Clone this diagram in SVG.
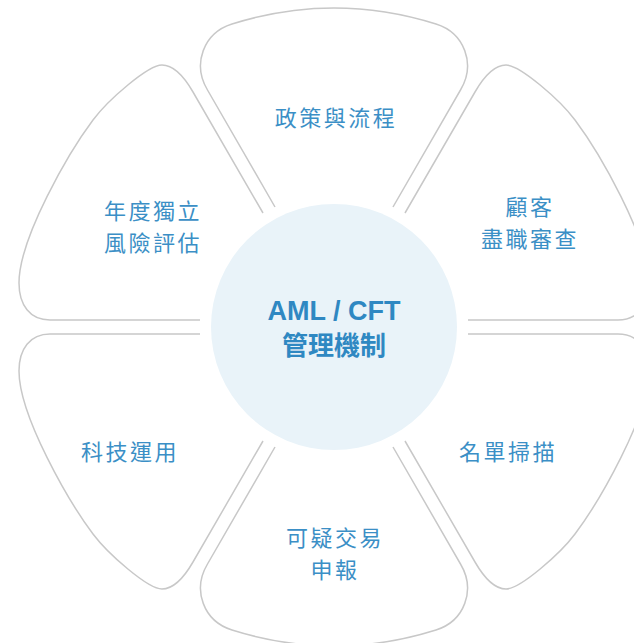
<svg xmlns="http://www.w3.org/2000/svg" width="634" height="643" viewBox="0 0 634 643">
<defs>
<style>
.petal{fill:none;stroke:#c8c8c8;stroke-width:1.5;stroke-linejoin:round}
.lbl{font-family:"Noto Sans CJK TC","Noto Sans CJK SC",sans-serif;font-size:22px;fill:#3b8fc6;text-anchor:middle;letter-spacing:2.5px}
.ctr{font-weight:bold;fill:#2f88c2;text-anchor:middle}
</style>
<path id="topShape" d="M 275 207 L 207.5 90 C 192 64 203.5 33 232 24 Q 283 8 334 8 Q 385 8 436 24 C 464.5 33 476 64 460.5 90 L 393 207"/>
<path id="sideShape" d="M 263 213 L 193 92 C 187 81.6 176 65 162 65 C 148 65 108 100 93 120 C 69 152 19 238 19 283 C 19 305 30 320 50 320 L 200 320"/>
</defs>
<rect width="634" height="643" fill="#ffffff"/>
<g id="connectors"></g>
<g id="petal-policy">
<use href="#topShape" class="petal"/>
<text class="lbl" x="336" y="126">政策與流程</text>
</g>
<g id="petal-cdd">
<use href="#sideShape" class="petal" transform="matrix(-1 0 0 1 668 0)"/>
<text class="lbl" x="530" y="215">顧客</text>
<text class="lbl" x="530" y="247">盡職審查</text>
</g>
<g id="petal-screening">
<use href="#sideShape" class="petal" transform="matrix(-1 0 0 -1 668 654)"/>
<text class="lbl" x="508" y="460">名單掃描</text>
</g>
<g id="petal-str">
<use href="#topShape" class="petal" transform="matrix(1 0 0 -1 0 654)"/>
<text class="lbl" x="335" y="546">可疑交易</text>
<text class="lbl" x="335" y="578">申報</text>
</g>
<g id="petal-tech">
<use href="#sideShape" class="petal" transform="matrix(1 0 0 -1 0 654)"/>
<text class="lbl" x="130" y="460">科技運用</text>
</g>
<g id="petal-risk">
<use href="#sideShape" class="petal"/>
<text class="lbl" x="153" y="219">年度獨立</text>
<text class="lbl" x="153" y="251">風險評估</text>
</g>
<g id="center">
<circle cx="334" cy="327" r="123" fill="#e9f3f9"/>
<text class="ctr" x="334" y="320" font-family="Liberation Sans, Arial, sans-serif" font-size="27">AML / CFT</text>
<text class="ctr" x="334" y="355" font-family="Noto Sans CJK TC, Noto Sans CJK SC, sans-serif" font-size="26">管理機制</text>
</g>
</svg>
